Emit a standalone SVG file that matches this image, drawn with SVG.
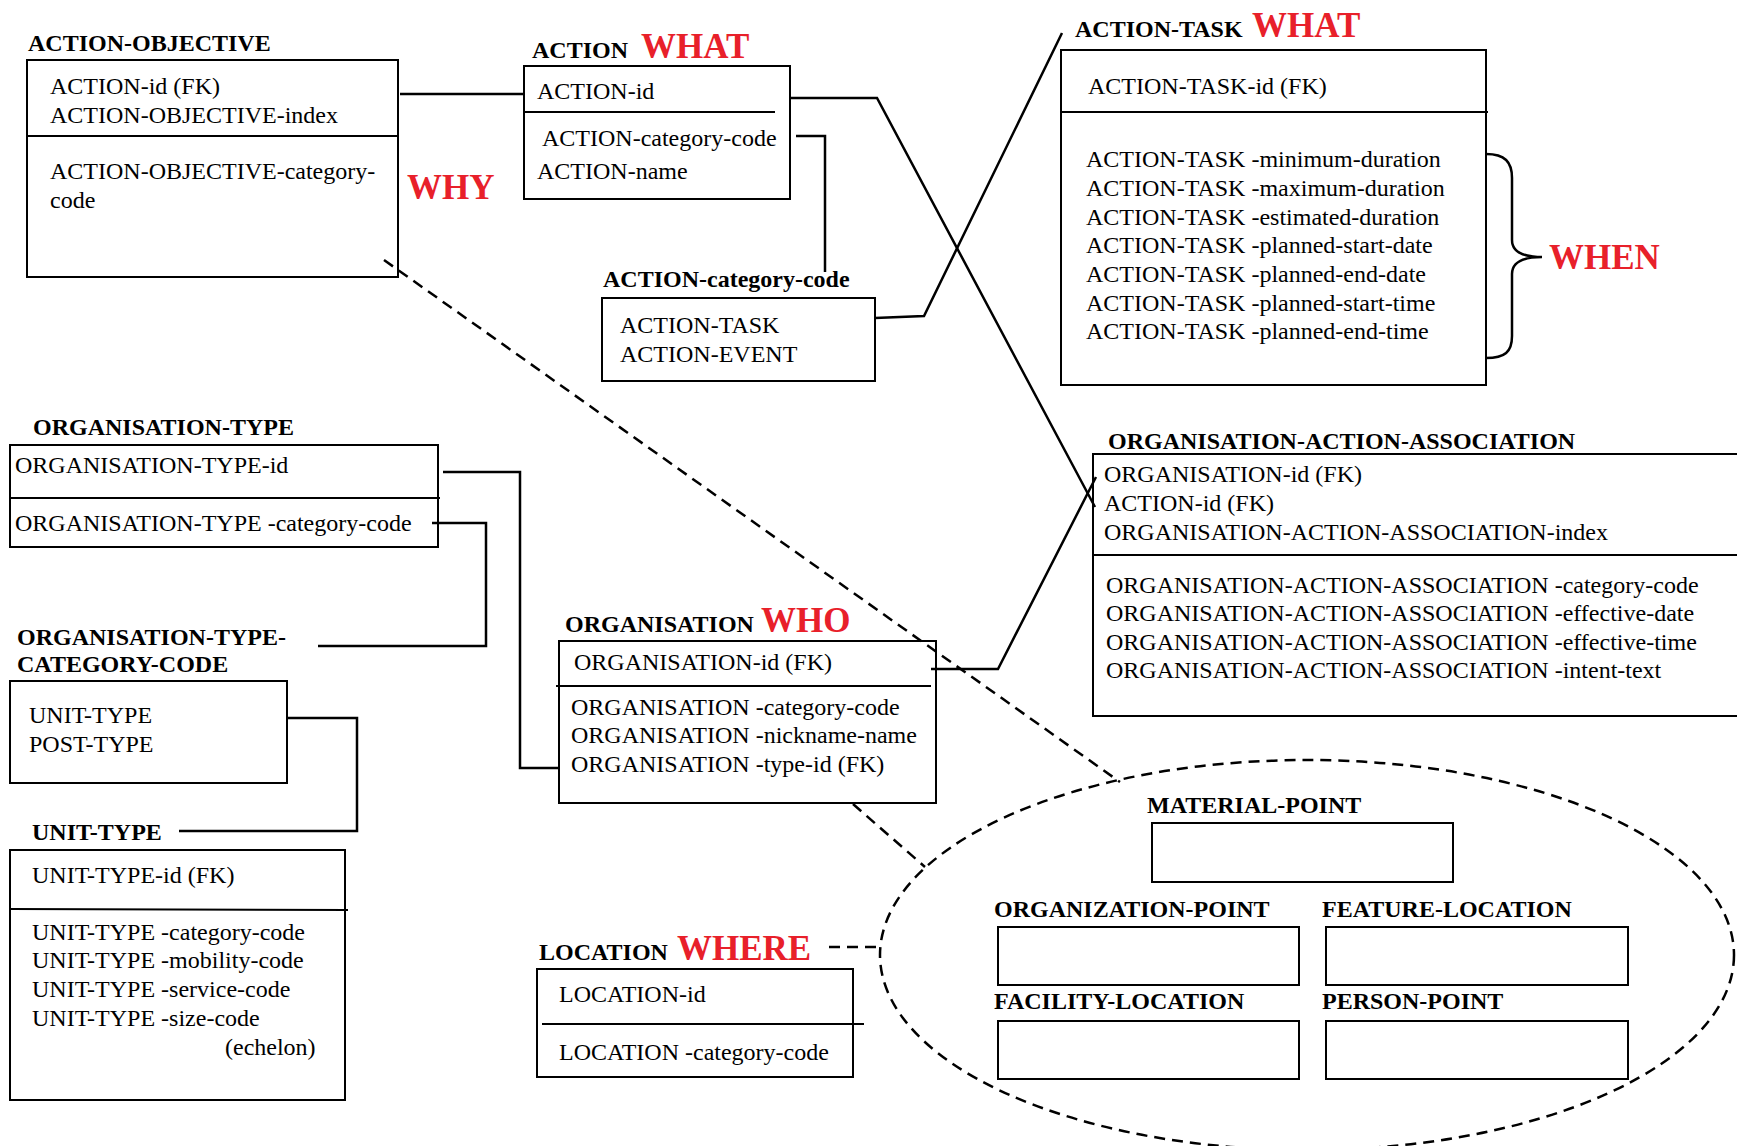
<svg xmlns="http://www.w3.org/2000/svg" width="1737" height="1146" viewBox="0 0 1737 1146">
  <style>
    .box { fill: none; stroke: #000; stroke-width: 2; }
    .div { stroke: #000; stroke-width: 2; }
    .title { font-family: "Liberation Serif", "Times New Roman", serif; font-weight: bold; font-size: 24px; fill: #000; }
    .txt { font-family: "Liberation Serif", "Times New Roman", serif; font-size: 24px; fill: #000; }
    .tag { font-family: "Liberation Serif", "Times New Roman", serif; font-weight: bold; font-size: 35px; fill: #e8202a; }
    .link { fill: none; stroke: #000; stroke-width: 2.5; stroke-linejoin: miter; }
    .dash { fill: none; stroke: #000; stroke-width: 2.5; stroke-dasharray: 11 7; }
  </style>
  <rect width="1737" height="1146" fill="#fff"/>

  <!-- ACTION-OBJECTIVE -->
  <g id="action-objective">
    <text class="title" x="28" y="51">ACTION-OBJECTIVE</text>
    <rect class="box" x="27" y="60" width="371" height="217"/>
    <line class="div" x1="27" y1="136" x2="398" y2="136"/>
    <text class="txt" x="50" y="94">ACTION-id (FK)</text>
    <text class="txt" x="50" y="123">ACTION-OBJECTIVE-index</text>
    <text class="txt" x="50" y="179">ACTION-OBJECTIVE-category-</text>
    <text class="txt" x="50" y="208">code</text>
    <text class="tag" x="407" y="199">WHY</text>
  </g>

  <!-- ACTION -->
  <g id="action">
    <text class="title" x="532" y="58">ACTION</text>
    <text class="tag" x="641" y="58">WHAT</text>
    <rect class="box" x="524" y="66" width="266" height="133"/>
    <line class="div" x1="524" y1="112" x2="775" y2="112"/>
    <text class="txt" x="537" y="99">ACTION-id</text>
    <text class="txt" x="542" y="146">ACTION-category-code</text>
    <text class="txt" x="537" y="179">ACTION-name</text>
  </g>

  <!-- ACTION-category-code -->
  <g id="action-category-code">
    <text class="title" x="603" y="287">ACTION-category-code</text>
    <rect class="box" x="602" y="298" width="273" height="83"/>
    <text class="txt" x="620" y="333">ACTION-TASK</text>
    <text class="txt" x="620" y="362">ACTION-EVENT</text>
  </g>

  <!-- ACTION-TASK -->
  <g id="action-task">
    <text class="title" x="1075" y="37">ACTION-TASK</text>
    <text class="tag" x="1252" y="37">WHAT</text>
    <rect class="box" x="1061" y="50" width="425" height="335"/>
    <line class="div" x1="1061" y1="112" x2="1488" y2="112"/>
    <text class="txt" x="1088" y="94">ACTION-TASK-id (FK)</text>
    <text class="txt" x="1086" y="167">ACTION-TASK -minimum-duration</text>
    <text class="txt" x="1086" y="196">ACTION-TASK -maximum-duration</text>
    <text class="txt" x="1086" y="225">ACTION-TASK -estimated-duration</text>
    <text class="txt" x="1086" y="253">ACTION-TASK -planned-start-date</text>
    <text class="txt" x="1086" y="282">ACTION-TASK -planned-end-date</text>
    <text class="txt" x="1086" y="311">ACTION-TASK -planned-start-time</text>
    <text class="txt" x="1086" y="339">ACTION-TASK -planned-end-time</text>
    <path class="link" d="M1486,154 C1505,154 1512,162 1512,178 L1512,240 C1512,252 1522,257 1542,257 C1522,257 1512,262 1512,274 L1512,336 C1512,352 1505,358 1486,358"/>
    <text class="tag" x="1549" y="269">WHEN</text>
  </g>

  <!-- ORGANISATION-ACTION-ASSOCIATION -->
  <g id="organisation-action-association">
    <text class="title" x="1108" y="449">ORGANISATION-ACTION-ASSOCIATION</text>
    <rect class="box" x="1093" y="454" width="660" height="262"/>
    <line class="div" x1="1093" y1="555" x2="1745" y2="555"/>
    <text class="txt" x="1104" y="482">ORGANISATION-id (FK)</text>
    <text class="txt" x="1104" y="511">ACTION-id (FK)</text>
    <text class="txt" x="1104" y="540">ORGANISATION-ACTION-ASSOCIATION-index</text>
    <text class="txt" x="1106" y="593">ORGANISATION-ACTION-ASSOCIATION -category-code</text>
    <text class="txt" x="1106" y="621">ORGANISATION-ACTION-ASSOCIATION -effective-date</text>
    <text class="txt" x="1106" y="650">ORGANISATION-ACTION-ASSOCIATION -effective-time</text>
    <text class="txt" x="1106" y="678">ORGANISATION-ACTION-ASSOCIATION -intent-text</text>
  </g>

  <!-- ORGANISATION-TYPE -->
  <g id="organisation-type">
    <text class="title" x="33" y="435">ORGANISATION-TYPE</text>
    <rect class="box" x="10" y="445" width="428" height="102"/>
    <line class="div" x1="10" y1="498" x2="440" y2="498"/>
    <text class="txt" x="15" y="473">ORGANISATION-TYPE-id</text>
    <text class="txt" x="15" y="531">ORGANISATION-TYPE -category-code</text>
  </g>

  <!-- ORGANISATION-TYPE-CATEGORY-CODE -->
  <g id="organisation-type-category-code">
    <text class="title" x="17" y="645">ORGANISATION-TYPE-</text>
    <text class="title" x="17" y="672">CATEGORY-CODE</text>
    <rect class="box" x="10" y="681" width="277" height="102"/>
    <text class="txt" x="29" y="723">UNIT-TYPE</text>
    <text class="txt" x="29" y="752">POST-TYPE</text>
  </g>

  <!-- UNIT-TYPE -->
  <g id="unit-type">
    <text class="title" x="32" y="840">UNIT-TYPE</text>
    <rect class="box" x="10" y="850" width="335" height="250"/>
    <line class="div" x1="10" y1="909" x2="348" y2="910"/>
    <text class="txt" x="32" y="883">UNIT-TYPE-id (FK)</text>
    <text class="txt" x="32" y="940">UNIT-TYPE -category-code</text>
    <text class="txt" x="32" y="968">UNIT-TYPE -mobility-code</text>
    <text class="txt" x="32" y="997">UNIT-TYPE -service-code</text>
    <text class="txt" x="32" y="1026">UNIT-TYPE -size-code</text>
    <text class="txt" x="225" y="1055">(echelon)</text>
  </g>

  <!-- ORGANISATION -->
  <g id="organisation">
    <text class="title" x="565" y="632">ORGANISATION</text>
    <text class="tag" x="761" y="632">WHO</text>
    <rect class="box" x="559" y="641" width="377" height="162"/>
    <line class="div" x1="556" y1="686" x2="931" y2="686"/>
    <text class="txt" x="574" y="670">ORGANISATION-id (FK)</text>
    <text class="txt" x="571" y="715">ORGANISATION -category-code</text>
    <text class="txt" x="571" y="743">ORGANISATION -nickname-name</text>
    <text class="txt" x="571" y="772">ORGANISATION -type-id (FK)</text>
  </g>

  <!-- LOCATION -->
  <g id="location">
    <text class="title" x="539" y="960">LOCATION</text>
    <text class="tag" x="677" y="960">WHERE</text>
    <rect class="box" x="537" y="969" width="316" height="108"/>
    <line class="div" x1="542" y1="1024" x2="864" y2="1024"/>
    <text class="txt" x="559" y="1002">LOCATION-id</text>
    <text class="txt" x="559" y="1060">LOCATION -category-code</text>
  </g>

  <!-- Location subtypes grouped in a dashed ellipse -->
  <g id="location-subtypes">
    <ellipse class="dash" cx="1307" cy="955" rx="427" ry="195"/>
    <g id="material-point">
      <text class="title" x="1147" y="813">MATERIAL-POINT</text>
      <rect class="box" x="1152" y="823" width="301" height="59"/>
    </g>
    <g id="organization-point">
      <text class="title" x="994" y="917">ORGANIZATION-POINT</text>
      <rect class="box" x="998" y="927" width="301" height="58"/>
    </g>
    <g id="feature-location">
      <text class="title" x="1322" y="917">FEATURE-LOCATION</text>
      <rect class="box" x="1326" y="927" width="302" height="58"/>
    </g>
    <g id="facility-location">
      <text class="title" x="994" y="1009">FACILITY-LOCATION</text>
      <rect class="box" x="998" y="1021" width="301" height="58"/>
    </g>
    <g id="person-point">
      <text class="title" x="1322" y="1009">PERSON-POINT</text>
      <rect class="box" x="1326" y="1021" width="302" height="58"/>
    </g>
  </g>

  <!-- Connectors -->
  <g id="connectors">
    <polyline class="link" points="400,94 525,94"/>
    <polyline class="link" points="790,98 877,98 1095,507"/>
    <polyline class="link" points="796,136 825,136 825,272"/>
    <polyline class="link" points="875,318 924,316 1062,33"/>
    <polyline class="link" points="931,669 998,669 1096,477"/>
    <polyline class="link" points="443,472 520,472 520,768 559,768"/>
    <polyline class="link" points="432,523 486,523 486,646 318,646"/>
    <polyline class="link" points="288,718 357,718 357,831 179,831"/>
    <line class="dash" x1="384" y1="260" x2="1120" y2="782"/>
    <line class="dash" x1="853" y1="804" x2="925" y2="867"/>
    <line class="dash" x1="829" y1="947" x2="880" y2="947"/>
  </g>
</svg>
